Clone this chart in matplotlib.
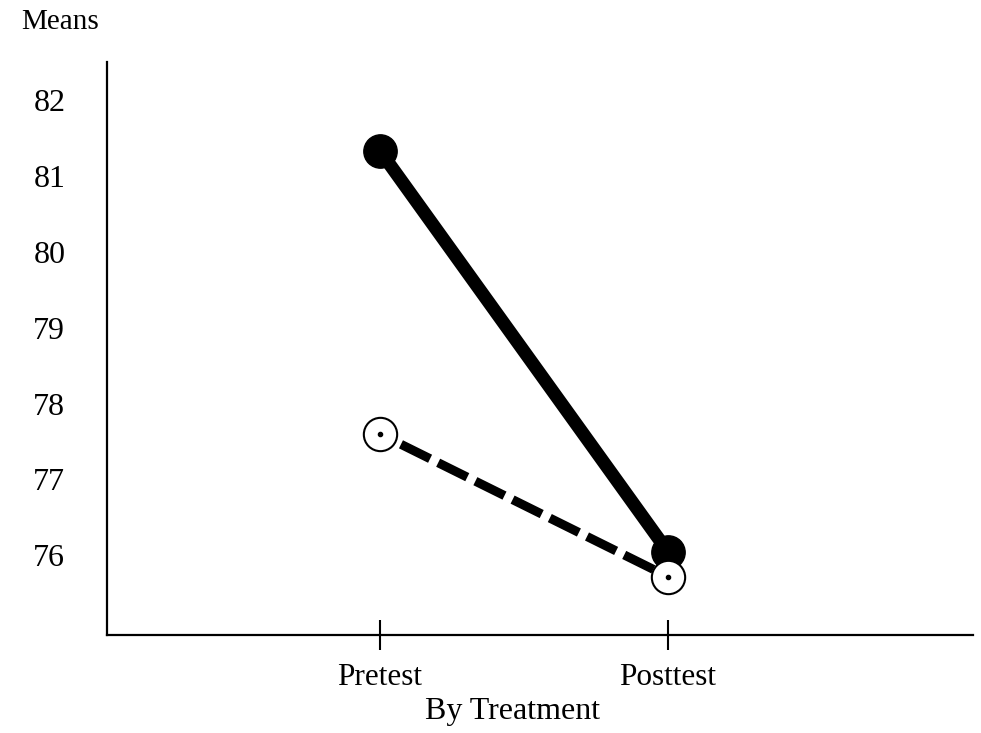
import matplotlib
matplotlib.use("Agg")
import matplotlib.pyplot as plt

plt.rcParams['font.family'] = ['Liberation Serif', 'DejaVu Serif']

categories = ["Pretest", "Posttest"]
group_solid = [81.33, 76.05]
group_dashed = [77.6, 75.72]
y_ticks = [76, 77, 78, 79, 80, 81, 82]

fig = plt.figure(figsize=(9.81, 7.33), dpi=100)
ax = fig.add_axes([107/981, 1-635/733, 866/981, 573/733])

x = [1, 2]
ax.plot(x, group_dashed, color='black', lw=6.5, linestyle=(2, (3.6, 1.0)),
        dash_capstyle='butt', zorder=2)
ax.plot(x, group_solid, color='black', lw=9.5, solid_capstyle='butt', zorder=3)
ax.plot(x, group_solid, 'o', color='black', markersize=24, zorder=4)
ax.plot(x, group_dashed, 'o', markerfacecolor='white', markeredgecolor='black',
        markeredgewidth=1.5, markersize=24, zorder=5)
ax.plot(x, group_dashed, 'o', color='black', markersize=3, zorder=6)

ax.set_xlim(0.052, 3.06)
ax.set_ylim(74.95, 82.5)
ax.set_xticks(x)
ax.set_xticklabels(categories, fontsize=22.5)
ax.set_yticks(y_ticks)
ax.set_yticklabels([str(v) for v in y_ticks], fontsize=23)
ax.tick_params(axis='x', direction='inout', length=22, width=1.5, pad=9)
ax.tick_params(axis='y', length=0, pad=30)
for s in ['top', 'right']:
    ax.spines[s].set_visible(False)
for s in ['left', 'bottom']:
    ax.spines[s].set_linewidth(1.6)

fig.text(513/981, 1-711/733, "By Treatment", fontsize=23, ha='center', va='center')
fig.text(60/981, 1-22/733, "Means", fontsize=21, ha='center', va='center')

fig.savefig("out.png", dpi=100)
